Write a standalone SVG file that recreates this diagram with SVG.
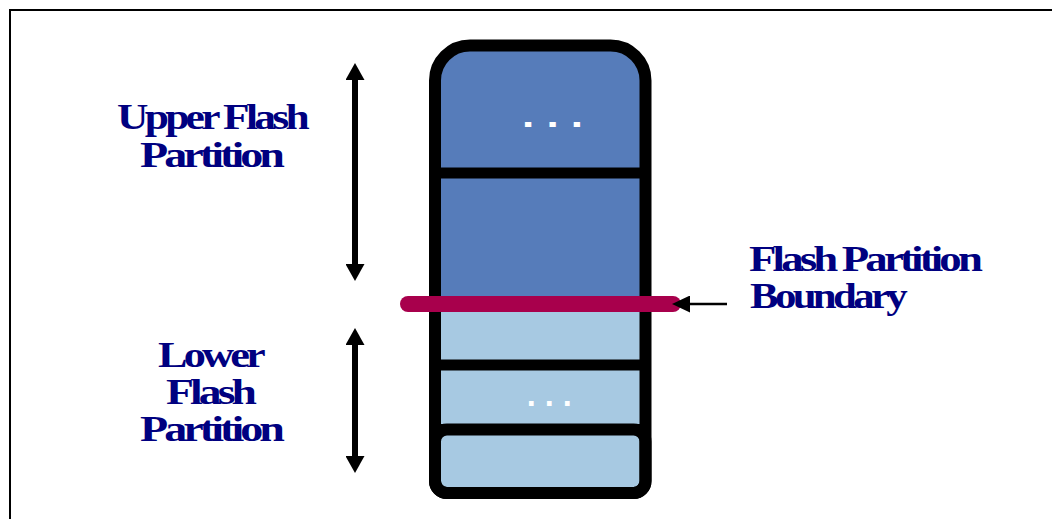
<svg xmlns="http://www.w3.org/2000/svg" width="1052" height="519" viewBox="0 0 1052 519">
  <style>
    .lbl { font-family: "Liberation Serif", "Times New Roman", serif; font-weight: bold; font-size: 35px; letter-spacing: -3px; fill: #000080; }
    .dots { font-family: "Liberation Sans", Arial, sans-serif; font-weight: bold; fill: #ffffff; }
    .wall { fill: none; stroke: #000000; stroke-width: 12; }
    .div { stroke: #000000; stroke-width: 11; }
    .shaft { stroke: #000000; stroke-width: 6; fill: none; }
  </style>
  <defs>
    <marker id="bigHead" markerUnits="userSpaceOnUse" markerWidth="17" markerHeight="19" refX="0" refY="9.5" orient="auto-start-reverse" viewBox="0 0 17 19">
      <path d="M0,0 L17,9.5 L0,19 Z" fill="#000000"/>
    </marker>
    <marker id="smallHead" markerUnits="userSpaceOnUse" markerWidth="18" markerHeight="17" refX="0" refY="8.5" orient="auto" viewBox="0 0 18 17">
      <path d="M0,0 L18,8.5 L0,17 Z" fill="#000000"/>
    </marker>
  </defs>
  <rect width="1052" height="519" fill="#ffffff"/>
  <g id="frame">
    <line x1="9" y1="10" x2="1052" y2="10" stroke="#000000" stroke-width="2"/>
    <line x1="10" y1="9" x2="10" y2="519" stroke="#000000" stroke-width="2"/>
  </g>
  <g id="upper-partition">
    <path d="M435,304 L435,80.5 A35,35 0 0 1 470,45.5 L610.5,45.5 A35,35 0 0 1 645.5,80.5 L645.5,304 Z" fill="#567CBA"/>
    <text class="dots" font-size="44" x="522" y="0" transform="translate(0,126.7) scale(1,0.75)">. . .</text>
  </g>
  <g id="lower-partition">
    <path d="M435,304 L645.5,304 L645.5,481 A12,12 0 0 1 633.5,493 L447,493 A12,12 0 0 1 435,481 Z" fill="#A7C9E2"/>
    <text class="dots" font-size="32.4" x="526.7" y="405.7">. . .</text>
  </g>
  <g id="stack-outline">
    <line class="div" x1="435" y1="173" x2="645.5" y2="173"/>
    <line class="div" x1="435" y1="365" x2="645.5" y2="365"/>
    <line class="div" x1="435" y1="429.5" x2="645.5" y2="429.5"/>
    <rect class="wall" x="435" y="429.5" width="210.5" height="63.5" rx="12" ry="12" stroke-width="11"/>
    <path class="wall" d="M435,80.5 A35,35 0 0 1 470,45.5 L610.5,45.5 A35,35 0 0 1 645.5,80.5 L645.5,481 A12,12 0 0 1 633.5,493 L447,493 A12,12 0 0 1 435,481 Z"/>
  </g>
  <g id="boundary-bar">
    <line x1="408" y1="304" x2="673" y2="304" stroke="#A8004C" stroke-width="16" stroke-linecap="round"/>
  </g>
  <g id="labels">
    <g id="upper-label">
      <text class="lbl" x="117" y="129" textLength="189" lengthAdjust="spacingAndGlyphs">Upper Flash</text>
      <text class="lbl" x="140" y="166.5" textLength="141" lengthAdjust="spacingAndGlyphs">Partition</text>
    </g>
    <g id="lower-label">
      <text class="lbl" x="158" y="366.5" textLength="104" lengthAdjust="spacingAndGlyphs">Lower</text>
      <text class="lbl" x="166" y="403.5" textLength="87" lengthAdjust="spacingAndGlyphs">Flash</text>
      <text class="lbl" x="140" y="440.5" textLength="141" lengthAdjust="spacingAndGlyphs">Partition</text>
    </g>
    <g id="boundary-label">
      <text class="lbl" x="749" y="270.5" textLength="230" lengthAdjust="spacingAndGlyphs">Flash Partition</text>
      <text class="lbl" x="750" y="307.5" textLength="154" lengthAdjust="spacingAndGlyphs">Boundary</text>
    </g>
  </g>
  <g id="connectors">
    <line class="shaft" x1="355" y1="80" x2="355" y2="264" marker-start="url(#bigHead)" marker-end="url(#bigHead)"/>
    <line class="shaft" x1="355" y1="345" x2="355" y2="456" marker-start="url(#bigHead)" marker-end="url(#bigHead)"/>
    <line x1="727" y1="304" x2="690" y2="304" stroke="#000000" stroke-width="2.5" marker-end="url(#smallHead)"/>
  </g>
</svg>
